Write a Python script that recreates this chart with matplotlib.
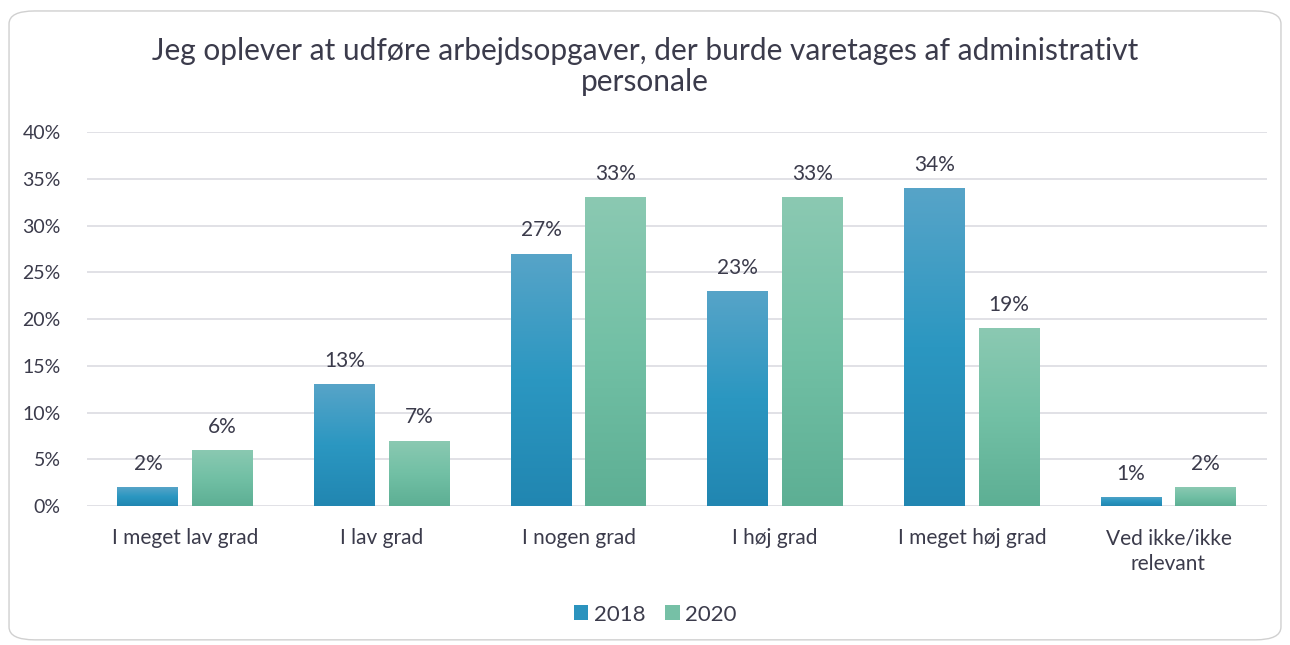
import numpy as np
import matplotlib.pyplot as plt
from matplotlib.colors import LinearSegmentedColormap
from matplotlib.patches import FancyBboxPatch, Patch

categories = ["I meget lav grad", "I lav grad", "I nogen grad", "I høj grad",
              "I meget høj grad", "Ved ikke/ikke\nrelevant"]
vals_2018 = [2, 13, 27, 23, 34, 1]
vals_2020 = [6, 7, 33, 33, 19, 2]
series = ["2018", "2020"]

TEXT = "#3b3b4b"
plt.rcParams['font.family'] = ['Lato', 'DejaVu Sans']

# gradient colours (top -> bottom)
blue_cmap = LinearSegmentedColormap.from_list("b", ["#2186b1", "#2b97c1", "#57a4c8"])
green_cmap = LinearSegmentedColormap.from_list("g", ["#5daf94", "#72c0a5", "#8bc9b2"])

fig = plt.figure(figsize=(12.9, 6.45), dpi=100)
ax = fig.add_axes([0.0674, 0.2155, 0.9146, 0.5798])

# rounded frame
frame = FancyBboxPatch((0.007, 0.008), 0.986, 0.975, boxstyle="round,pad=0,rounding_size=0.02",
                       transform=fig.transFigure, facecolor="white", edgecolor="#d0d0d0",
                       linewidth=1.0, zorder=-10)
fig.patches.append(frame)

x = np.arange(len(categories))
w = 0.31
off = 0.19
grad = np.linspace(0, 1, 256).reshape(-1, 1)

for vals, dx, cmap, lab in [(vals_2018, -off, blue_cmap, series[0]),
                            (vals_2020, off, green_cmap, series[1])]:
    bars = ax.bar(x + dx, vals, w, color="none", edgecolor="none", zorder=2, label=lab)
    for b, v in zip(bars, vals):
        x0, y0 = b.get_x(), b.get_y()
        im = ax.imshow(grad, cmap=cmap, origin="lower", aspect="auto",
                       extent=[x0, x0 + b.get_width(), y0, y0 + b.get_height()], zorder=2)
        im.set_clip_path(b)
        ax.text(x0 + b.get_width() / 2, v + 1.4, f"{v}%", ha="center", va="bottom",
                fontsize=15, color=TEXT)

ax.set_xlim(-0.5, len(categories) - 0.5)
ax.set_ylim(0, 40)
ax.set_yticks(np.arange(0, 41, 5))
ax.set_yticklabels([f"{t}%" for t in range(0, 41, 5)])
ax.set_xticks(x)
ax.set_xticklabels(categories, fontsize=15, color=TEXT, linespacing=1.35)
ax.tick_params(axis="y", labelsize=14, labelcolor=TEXT, length=0, pad=19)
ax.tick_params(axis="x", length=0, pad=16)
ax.grid(axis="y", color="#dcdce2", linewidth=1.2, zorder=0)
ax.set_axisbelow(True)
for s in ax.spines.values():
    s.set_visible(False)

fig.text(0.5, 0.897, "Jeg oplever at udføre arbejdsopgaver, der burde varetages af administrativt\npersonale",
         ha="center", va="center", fontsize=21.5, color=TEXT, linespacing=1.1)

handles = [Patch(facecolor="#2b93be"), Patch(facecolor="#76c0a6")]
fig.legend(handles, series, loc="center", bbox_to_anchor=(0.508, 0.047), ncol=2, frameon=False,
           fontsize=16, labelcolor=TEXT, handlelength=0.65, handleheight=0.65,
           handletextpad=0.25, columnspacing=0.9)

fig.savefig("out.png", dpi=100, facecolor="white")
